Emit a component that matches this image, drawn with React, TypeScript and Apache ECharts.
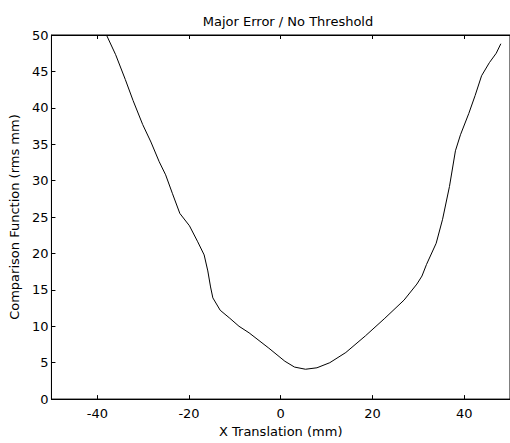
import React, { useEffect, useRef } from "react";
import * as echarts from "echarts";

const xValues = [-38.0, -36.0, -33.9, -32.2, -30.1, -28.3, -26.5, -25.1, -23.6, -22.0, -19.9, -18.1, -16.7, -15.9, -15.3, -14.8, -13.2, -11.1, -9.1, -6.9, -2.6, 0.9, 3.0, 5.4, 7.9, 10.7, 14.2, 18.5, 22.7, 26.9, 29.7, 30.8, 31.8, 33.9, 35.3, 36.8, 38.1, 39.2, 41.0, 42.4, 43.8, 45.5, 47.0, 48.0];
const yValues = [50.0, 47.3, 43.9, 41.0, 37.7, 35.3, 32.6, 30.8, 28.2, 25.5, 23.8, 21.6, 19.8, 17.6, 15.4, 13.9, 12.2, 11.1, 10.0, 9.1, 7.0, 5.2, 4.4, 4.1, 4.3, 5.0, 6.4, 8.7, 11.1, 13.6, 15.8, 16.9, 18.5, 21.4, 24.7, 29.2, 34.1, 36.3, 39.2, 41.7, 44.4, 46.2, 47.5, 48.8];
const xTicks = [-40, -20, 0, 20, 40];
const titleText = "Major Error / No Threshold";
const xName = "X Translation (mm)";
const yName = "Comparison Function (rms mm)";

const FONT = "DejaVu Sans, sans-serif";
const FS = 13;

export default function App() {
  const ref = useRef<HTMLDivElement>(null);
  useEffect(() => {
    if (!ref.current) return;
    const chart = echarts.init(ref.current, null, { renderer: "svg" });
    const data = xValues.map((x, i) => [x, yValues[i]]);
    chart.setOption({
      animation: false,
      backgroundColor: "#fff",
      title: {
        text: titleText,
        left: 283,
        top: 10,
        textAlign: "center",
        textStyle: { fontFamily: FONT, fontSize: FS, fontWeight: "normal", color: "#000" },
      },
      grid: {
        left: 46,
        top: 35,
        bottom: 35,
        right: -9.5,
        containLabel: false,
        show: true,
        borderColor: "#000",
        borderWidth: 1,
        backgroundColor: "transparent",
      },
      xAxis: [
        {
          type: "value",
          min: -50,
          max: 50,
          position: "bottom",
          name: xName,
          nameLocation: "middle",
          nameGap: 19,
          nameTextStyle: { fontFamily: FONT, fontSize: FS, color: "#000" },
          axisLine: { onZero: false, lineStyle: { color: "#000", width: 1 } },
          axisTick: { inside: true, length: 4, customValues: xTicks, lineStyle: { color: "#000" } },
          axisLabel: { customValues: xTicks, fontFamily: FONT, fontSize: FS, color: "#000", margin: 8 },
          splitLine: { show: false },
        },
        {
          type: "value",
          min: -50,
          max: 50,
          position: "top",
          axisLine: { show: true, onZero: false, lineStyle: { color: "#000", width: 1 } },
          axisTick: { show: true, inside: true, length: 4, customValues: xTicks, lineStyle: { color: "#000" } },
          axisLabel: { show: false },
          splitLine: { show: false },
        },
      ],
      yAxis: {
        type: "value",
        min: 0,
        max: 50,
        interval: 5,
        name: yName,
        nameLocation: "middle",
        nameGap: 22,
        nameTextStyle: { fontFamily: FONT, fontSize: FS, color: "#000" },
        axisLine: { show: true, onZero: false, lineStyle: { color: "#000", width: 1 } },
        axisTick: { show: true, inside: true, length: 4, lineStyle: { color: "#000" } },
        axisLabel: { fontFamily: FONT, fontSize: FS, color: "#000", margin: 3 },
        splitLine: { show: false },
      },
      series: [
        {
          type: "line",
          data,
          xAxisIndex: 0,
          showSymbol: false,
          symbol: "none",
          lineStyle: { color: "#000", width: 1 },
          clip: true,
        },
      ],
    });
    return () => chart.dispose();
  }, []);
  return (
    <div
      ref={ref}
      style={{ position: "absolute", left: 0, top: 0, width: 510, height: 443 }}
    />
  );
}
